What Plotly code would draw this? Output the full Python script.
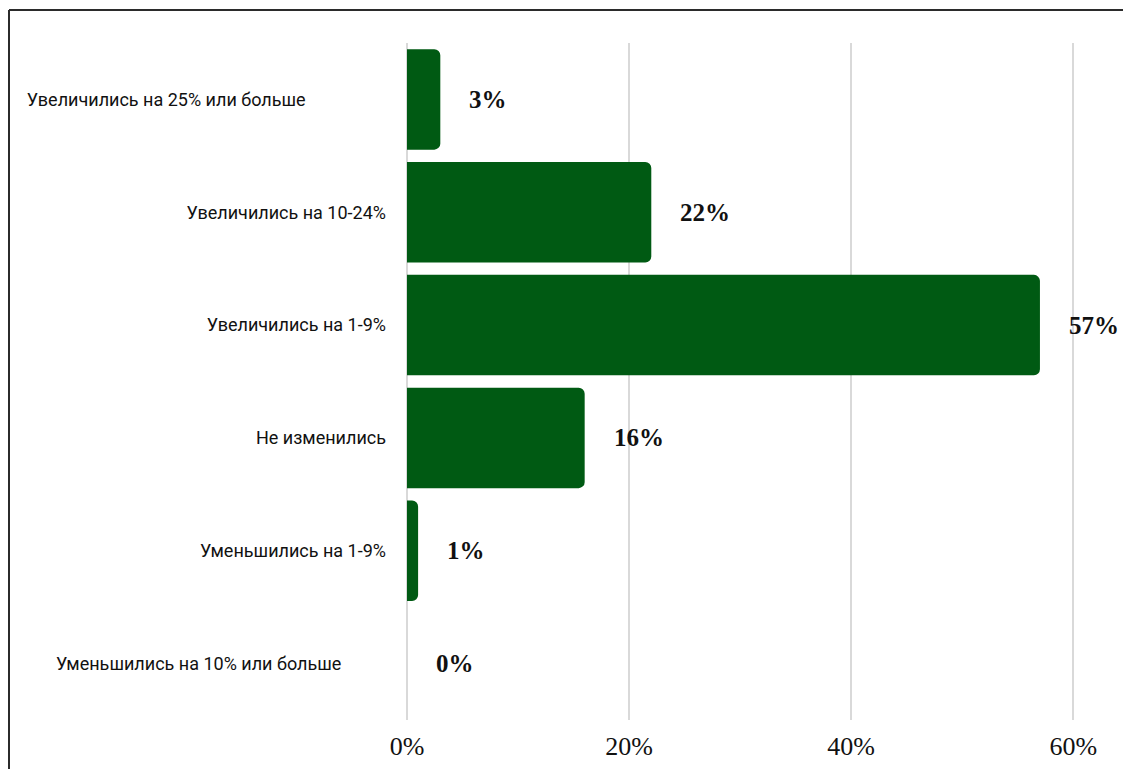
import plotly.graph_objects as go

categories = [
    "Увеличились на 25% или больше",
    "Увеличились на 10-24%",
    "Увеличились на 1-9%",
    "Не изменились",
    "Уменьшились на 1-9%",
    "Уменьшились на 10% или больше",
]
values = [3, 22, 57, 16, 1, 0]
value_labels = ["3%", "22%", "57%", "16%", "1%", "0%"]
x_ticks = [0, 20, 40, 60]
x_ticktext = ["0%", "20%", "40%", "60%"]

# padding (non-breaking spaces) so long labels sit further left, as in the original
pad = {0: 18, 5: 10}
tick_text = [c + "\u00a0" * pad.get(i, 0) for i, c in enumerate(categories)]

# page has an 8px body margin, so the figure is drawn 8px smaller
OFF = 8
W, H = 1131 - OFF, 769 - OFF
ml, mr, mt, mb = 407 - OFF, 0, 43 - OFF, 49

fig = go.Figure()
fig.add_trace(go.Bar(
    x=values,
    y=categories,
    orientation="h",
    marker=dict(color="#005a13", line=dict(width=0)),
    hoverinfo="skip",
))

for c, v, t in zip(categories, values, value_labels):
    fig.add_annotation(
        x=v, y=c, xref="x", yref="y",
        text="<b>" + t + "</b>",
        showarrow=False, xanchor="left", yanchor="middle",
        xshift=27,
        font=dict(family="Liberation Serif", size=25, color="#111111"),
    )

pw = W - ml - mr
ph = H - mt - mb
# border lines (left and top) of the original frame
x_left = (9 - OFF - ml) / pw
y_top = (H - mb - (10 - OFF)) / ph
fig.add_shape(type="line", xref="paper", yref="paper",
              x0=x_left, x1=(W + 5 - ml) / pw, y0=y_top, y1=y_top,
              line=dict(color="#2b2b2b", width=2))
fig.add_shape(type="line", xref="paper", yref="paper",
              x0=x_left, x1=x_left, y0=y_top, y1=-(mb + 5) / ph,
              line=dict(color="#2b2b2b", width=2))

fig.update_layout(
    width=W, height=H,
    margin=dict(l=ml, r=mr, t=mt, b=mb),
    paper_bgcolor="white", plot_bgcolor="white",
    bargap=0.11,
    barcornerradius=6,
    showlegend=False,
    xaxis=dict(
        range=[0, 65.2],
        tickvals=x_ticks, ticktext=x_ticktext,
        showgrid=True, gridcolor="#d9d9d9", gridwidth=2,
        zeroline=True, zerolinecolor="#d9d9d9", zerolinewidth=2,
        showline=False, ticks="",
        tickfont=dict(family="Liberation Serif", size=26, color="#111111"),
        ticklabelstandoff=8,
        fixedrange=True,
    ),
    yaxis=dict(
        categoryorder="array", categoryarray=categories,
        autorange="reversed",
        tickvals=categories, ticktext=tick_text,
        showgrid=False, zeroline=False, showline=False, ticks="",
        tickfont=dict(family="Roboto", size=18, color="#111111"),
        ticklabelstandoff=20,
        fixedrange=True,
    ),
)

fig.write_html("out.html", config={"displayModeBar": False})
